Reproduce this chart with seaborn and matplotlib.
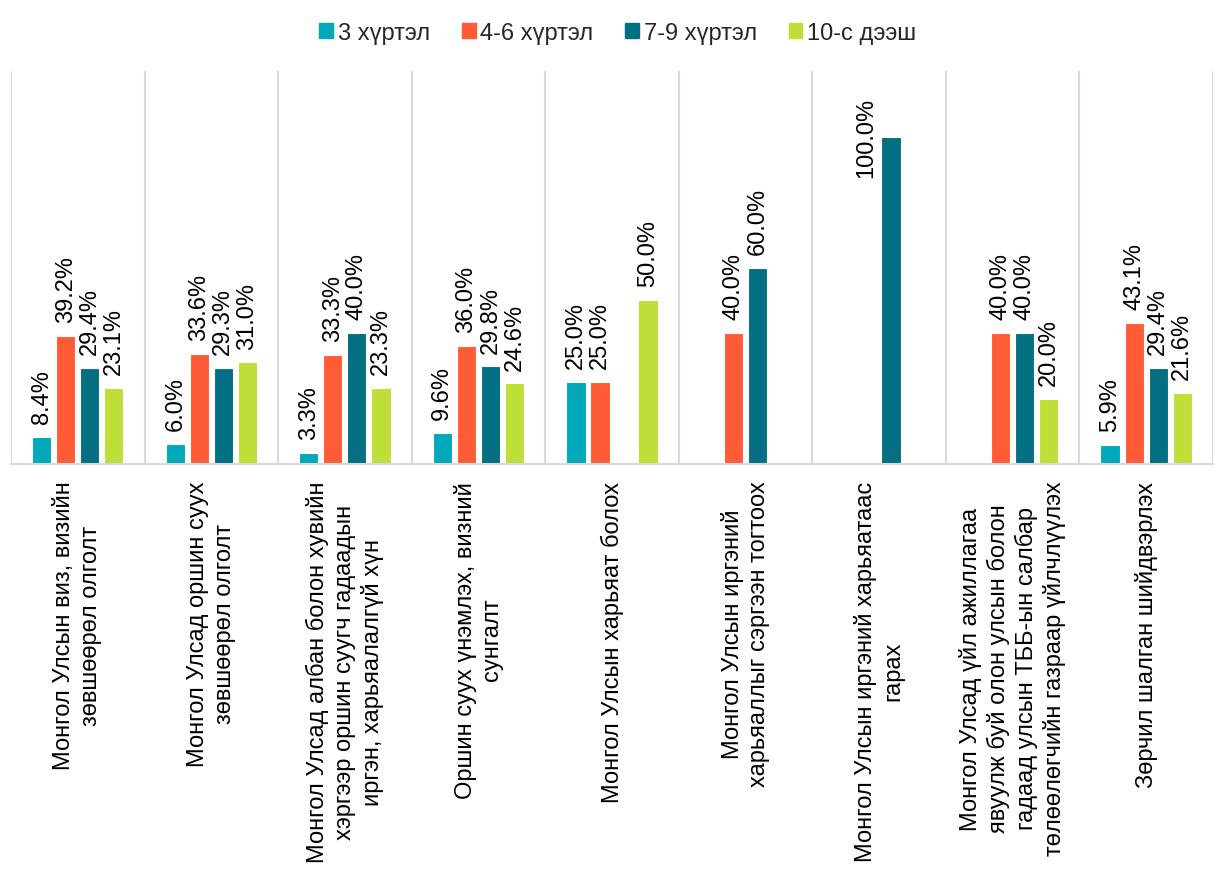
import numpy as np
import pandas as pd
import matplotlib
matplotlib.use("Agg")
import matplotlib.pyplot as plt
from matplotlib.ticker import FixedLocator, NullLocator
import seaborn as sns

categories = [
    "Монгол Улсын виз, визийн\nзөвшөөрөл олголт",
    "Монгол Улсад оршин суух\nзөвшөөрөл олголт",
    "Монгол Улсад албан болон хувийн\nхэргээр оршин суугч гадаадын\nиргэн, харьяалалгүй хүн",
    "Оршин суух үнэмлэх, визний\nсунгалт",
    "Монгол Улсын харьяат болох",
    "Монгол Улсын иргэний\nхарьяаллыг сэргээн тогтоох",
    "Монгол Улсын иргэний харьяатаас\nгарах",
    "Монгол Улсад үйл ажиллагаа\nявуулж буй олон улсын болон\nгадаад улсын ТББ-ын салбар\nтөлөөлөгчийн газраар үйлчлүүлэх",
    "Зөрчил шалган шийдвэрлэх",
]
series_names = ["3 хүртэл", "4-6 хүртэл", "7-9 хүртэл", "10-с дээш"]

upto_3 = [8.4, 6.0, 3.3, 9.6, 25.0, np.nan, np.nan, np.nan, 5.9]
from_4_to_6 = [39.2, 33.6, 33.3, 36.0, 25.0, 40.0, np.nan, 40.0, 43.1]
from_7_to_9 = [29.4, 29.3, 40.0, 29.8, np.nan, 60.0, 100.0, 40.0, 29.4]
from_10 = [23.1, 31.0, 23.3, 24.6, 50.0, np.nan, np.nan, 20.0, 21.6]

colors = ["#00A9BA", "#FF5B36", "#036F82", "#BDDF38"]

rows = []
for name, vals in zip(series_names, [upto_3, from_4_to_6, from_7_to_9, from_10]):
    for cat, v in zip(categories, vals):
        if not np.isnan(v):
            rows.append({"category": cat, "group": name, "value": v})
df = pd.DataFrame(rows)

sns.set_theme(style="white")
plt.rcParams["font.family"] = ["Liberation Sans", "DejaVu Sans"]

FS = 17
YMAX = 120

fig = plt.figure(figsize=(12.21, 8.7), dpi=100)
ax = fig.add_axes([0.009, 0.4655, 0.9844, 0.4517])

sns.barplot(
    data=df, x="category", y="value", hue="group",
    order=categories, hue_order=series_names, palette=colors,
    saturation=1, width=0.72, gap=0.2, edgecolor="white", linewidth=0.8,
    errorbar=None, ax=ax, legend=True,
)

# value labels: above the bar, or beside it when there is no room above
for container in ax.containers:
    for bar in container:
        h = bar.get_height()
        xc = bar.get_x() + bar.get_width() / 2
        text = f"{h:.1f}%"
        if h > 0.8 * YMAX:
            ax.annotate(text, (xc, h), xytext=(-18, 0), textcoords="offset points",
                        rotation=90, ha="center", va="center",
                        fontsize=FS, color="#000000")
        else:
            ax.annotate(text, (xc, h), xytext=(0, 10), textcoords="offset points",
                        rotation=90, ha="center", va="bottom",
                        fontsize=FS, color="#000000")

ax.set_ylim(0, YMAX)
ax.set_xlim(-0.5, len(categories) - 0.5)
ax.set_xlabel("")
ax.set_ylabel("")
ax.yaxis.set_major_locator(NullLocator())

# light separators between categories
ax.xaxis.set_minor_locator(FixedLocator(np.arange(-0.5, len(categories), 1.0)))
ax.grid(which="minor", axis="x", color="#D9D9D9", linewidth=1.5)
ax.grid(which="major", axis="both", visible=False)
ax.tick_params(axis="x", which="both", length=0, pad=12)

ax.set_xticks(range(len(categories)))
ax.set_xticklabels(categories, rotation=90, ha="center", va="top",
                   multialignment="center", fontsize=FS, color="#000000",
                   linespacing=1.28)

for side in ["top", "right", "left"]:
    ax.spines[side].set_visible(False)
ax.spines["bottom"].set_color("#D9D9D9")
ax.spines["bottom"].set_linewidth(1.5)

ax.legend_.remove()
handles = [plt.Rectangle((0, 0), 1, 1, color=c) for c in colors]
fig.legend(handles, series_names, loc="upper center", bbox_to_anchor=(0.506, 0.998),
           ncol=4, frameon=False, fontsize=FS, handlelength=0.58,
           handleheight=0.58, handletextpad=0.2, columnspacing=1.35)

fig.savefig("out.png", dpi=100, facecolor="white")
